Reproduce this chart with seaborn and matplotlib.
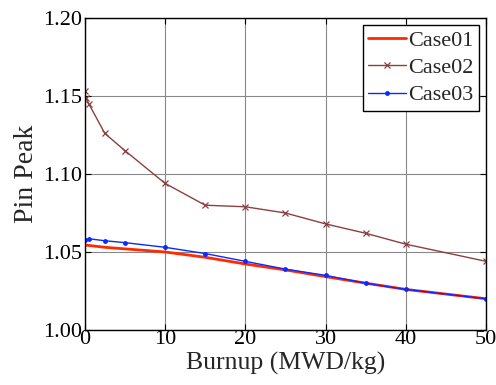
import numpy as np
import pandas as pd
import matplotlib
matplotlib.use("Agg")
import matplotlib.pyplot as plt
import seaborn as sns

# burnup steps (MWD/kg)
burnup01 = [0, 2.5, 5, 10, 15, 20, 25, 30, 35, 40, 50]
case01 = [1.0545, 1.053, 1.052, 1.050, 1.0466, 1.0423, 1.0385, 1.0342, 1.030, 1.026, 1.020]

burnup02 = [0, 0.1, 0.5, 2.5, 5, 10, 15, 20, 25, 30, 35, 40, 50]
case02 = [1.153, 1.149, 1.145, 1.126, 1.115, 1.094, 1.080, 1.079, 1.075, 1.068, 1.062, 1.055, 1.044]

burnup03 = [0, 0.5, 2.5, 5, 10, 15, 20, 25, 30, 35, 40, 50]
case03 = [1.0577, 1.0585, 1.0572, 1.056, 1.053, 1.049, 1.044, 1.039, 1.035, 1.030, 1.026, 1.020]

sns.set_style("ticks")
plt.rcParams['font.family'] = ['Liberation Serif', 'DejaVu Serif']

fig = plt.figure(figsize=(4.96, 3.85), dpi=100)
ax = fig.add_axes([0.171, 0.143, 0.809, 0.810])

df1 = pd.DataFrame({"x": burnup01, "y": case01})
df2 = pd.DataFrame({"x": burnup02, "y": case02})
df3 = pd.DataFrame({"x": burnup03, "y": case03})

sns.lineplot(data=df1, x="x", y="y", ax=ax, color="#ff2a00", lw=2.0, label="Case01")
sns.lineplot(data=df2, x="x", y="y", ax=ax, color="#8b4040", lw=1.0, marker="x",
             markersize=4, markeredgewidth=0.9, markeredgecolor="#8b4040", label="Case02")
sns.lineplot(data=df3, x="x", y="y", ax=ax, color="#0a2aff", lw=1.0, marker="o",
             markersize=3.5, markeredgewidth=0, label="Case03")

ax.set_xlim(0, 50)
ax.set_ylim(1.00, 1.20)
ax.set_xticks(np.arange(0, 51, 10))
ax.set_yticks(np.arange(1.00, 1.201, 0.05))
ax.yaxis.set_major_formatter(matplotlib.ticker.FormatStrFormatter('%.2f'))
ax.grid(True, color="#888888", lw=0.8)
ax.tick_params(direction="in", length=4, width=0.8, labelsize=16, pad=2,
               top=True, right=True, colors="black")
ax.tick_params(axis="x", pad=0)
for s in ax.spines.values():
    s.set_color("black")
    s.set_linewidth(1.0)

ax.set_xlabel("Burnup (MWD/kg)", fontsize=18.5, labelpad=2)
ax.set_ylabel("Pin Peak", fontsize=20, labelpad=3)

leg = ax.legend(loc="upper right", fontsize=16, frameon=True, fancybox=False,
                edgecolor="black", framealpha=1, borderpad=0.25, labelspacing=0.3,
                handlelength=1.7, handletextpad=0.1, borderaxespad=0.3)
leg.get_frame().set_linewidth(1.0)

fig.savefig("out.png", dpi=100)
